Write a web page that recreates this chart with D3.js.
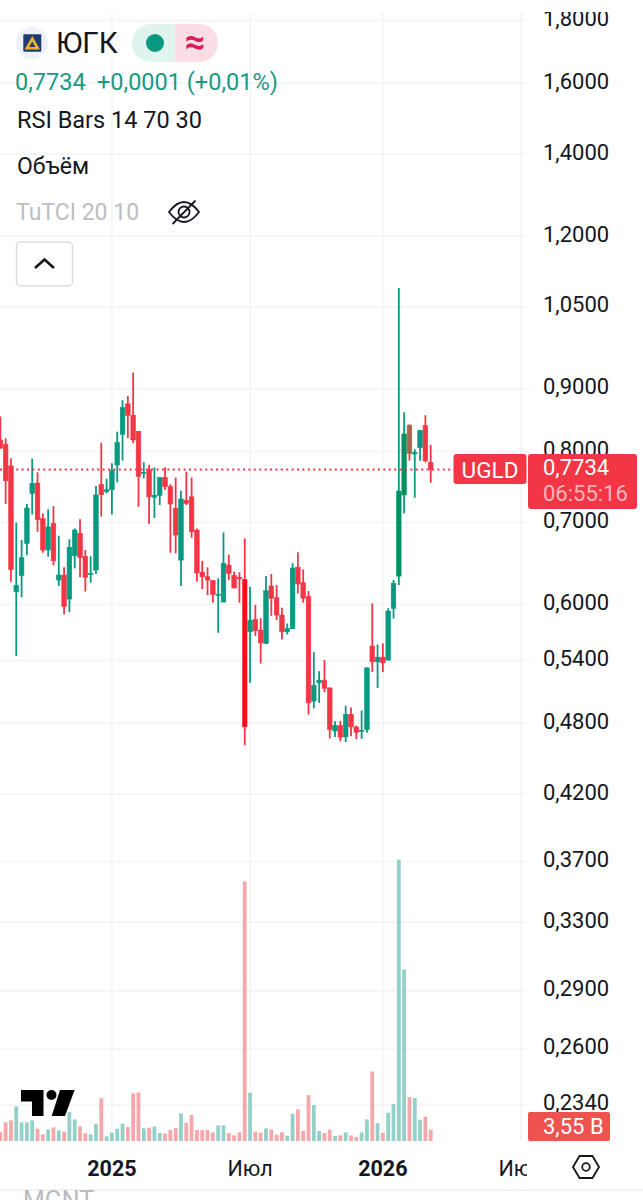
<!DOCTYPE html>
<html>
<head>
<meta charset="utf-8">
<script src="https://cdn.jsdelivr.net/npm/d3@7"></script>
<style>
  html, body { margin: 0; padding: 0; background: #fff; }
  svg { display: block; font-family: Roboto, sans-serif; }
</style>
</head>
<body>
<svg id="chart" width="643" height="1200"></svg>
<script>
const opens = [
  0.8176, 0.8110, 0.7786, 0.6144, 0.6337, 0.6731, 0.7394, 0.7539, 0.7051, 0.6647,
  0.6985, 0.6282, 0.6341, 0.6061, 0.6575, 0.6858, 0.6568, 0.6349, 0.6401, 0.7516,
  0.7418, 0.7445, 0.7800, 0.8264, 0.8750, 0.8565, 0.8311, 0.7678, 0.7737, 0.7341,
  0.7368, 0.7617, 0.7488, 0.7190, 0.6522, 0.7298, 0.7347, 0.6901, 0.6376, 0.6321,
  0.6274, 0.6109, 0.6027, 0.6461, 0.6337, 0.6314, 0.6290, 0.5699, 0.5833, 0.5717,
  0.5576, 0.6211, 0.6076, 0.5881, 0.5699, 0.5731, 0.6434, 0.6250, 0.6090, 0.5002,
  0.5177, 0.5203, 0.5128, 0.4729, 0.4777, 0.4676, 0.4878, 0.4765, 0.4726, 0.4741,
  0.5548, 0.5386, 0.5433, 0.5403, 0.5956, 0.6329, 0.7372, 0.8400, 0.7964, 0.8058,
  0.8400, 0.7840
];
const highs = [
  0.8543, 0.8202, 0.7899, 0.6998, 0.6773, 0.7248, 0.7893, 0.7693, 0.7121, 0.7176,
  0.7220, 0.6828, 0.6434, 0.6782, 0.6923, 0.7042, 0.6647, 0.6568, 0.7497, 0.8134,
  0.7600, 0.7825, 0.8305, 0.8811, 0.8883, 0.9281, 0.8311, 0.7840, 0.7805, 0.7766,
  0.7625, 0.7766, 0.7522, 0.7617, 0.7431, 0.7701, 0.7617, 0.6923, 0.6513, 0.6434,
  0.6282, 0.6302, 0.6870, 0.6588, 0.6381, 0.6374, 0.6795, 0.6203, 0.5995, 0.5847,
  0.6329, 0.6353, 0.6223, 0.5963, 0.5789, 0.6484, 0.6618, 0.6409, 0.6153, 0.5488,
  0.5292, 0.5403, 0.5132, 0.4816, 0.4819, 0.4958, 0.4943, 0.4777, 0.4915, 0.5329,
  0.6012, 0.5564, 0.5575, 0.5956, 0.6282, 1.0880, 0.8614, 0.8421, 0.8034, 0.8331,
  0.8565, 0.8100
];
const lows = [
  0.8049, 0.7248, 0.6262, 0.5444, 0.6081, 0.6584, 0.7107, 0.6879, 0.6613, 0.6563,
  0.6458, 0.6211, 0.5889, 0.5914, 0.6421, 0.6314, 0.6148, 0.6250, 0.6353, 0.7078,
  0.7394, 0.7107, 0.7549, 0.7864, 0.8202, 0.8125, 0.7209, 0.7606, 0.6985, 0.7061,
  0.7234, 0.7441, 0.6613, 0.6605, 0.6211, 0.7234, 0.6802, 0.6262, 0.6176, 0.6106,
  0.6019, 0.5689, 0.6027, 0.6282, 0.6188, 0.6019, 0.4604, 0.5177, 0.5653, 0.5369,
  0.5569, 0.5873, 0.5825, 0.5618, 0.5671, 0.5731, 0.6125, 0.6019, 0.4878, 0.4934,
  0.4986, 0.5087, 0.4662, 0.4676, 0.4638, 0.4632, 0.4682, 0.4656, 0.4659, 0.4714,
  0.5285, 0.5128, 0.5282, 0.5403, 0.5844, 0.6223, 0.7121, 0.7864, 0.7334, 0.7864,
  0.7840, 0.7544
];
const closes = [
  0.8049, 0.7572, 0.6409, 0.6219, 0.6551, 0.7193, 0.7535, 0.7037, 0.6647, 0.6942,
  0.6513, 0.6341, 0.5977, 0.6680, 0.6901, 0.6555, 0.6314, 0.6361, 0.7372, 0.7375,
  0.7445, 0.7723, 0.8134, 0.8689, 0.8565, 0.8176, 0.7635, 0.7693, 0.7347, 0.7368,
  0.7617, 0.7488, 0.7248, 0.6837, 0.7316, 0.7257, 0.6879, 0.6367, 0.6321, 0.6282,
  0.6114, 0.6117, 0.6484, 0.6361, 0.6188, 0.6297, 0.4765, 0.5825, 0.5710, 0.5582,
  0.6156, 0.6069, 0.5881, 0.5699, 0.5735, 0.6425, 0.6235, 0.6071, 0.4986, 0.5151,
  0.5203, 0.5125, 0.4741, 0.4777, 0.4674, 0.4878, 0.4765, 0.4717, 0.4735, 0.5325,
  0.5386, 0.5433, 0.5376, 0.5926, 0.6243, 0.7427, 0.8269, 0.7974, 0.7983, 0.8326,
  0.7860, 0.7734
];
const volumes = [
  2.82, 5.85, 6.47, 10.86, 5.85, 5.85, 6.47, 3.86, 2.09, 3.65,
  4.28, 3.34, 2.92, 9.08, 6.79, 4.59, 2.40, 2.09, 5.43, 13.47,
  1.46, 2.61, 3.86, 5.43, 4.38, 14.93, 15.24, 3.97, 4.18, 4.59,
  2.51, 2.30, 3.45, 4.07, 8.67, 5.74, 8.14, 3.45, 3.45, 3.45,
  2.71, 4.91, 4.91, 2.51, 1.77, 2.71, 81.5, 15.14, 2.92, 2.61,
  3.97, 3.65, 1.98, 2.71, 1.67, 8.56, 9.92, 3.13, 14.41, 11.28,
  3.13, 2.51, 3.55, 1.57, 1.77, 2.71, 1.77, 1.25, 2.71, 6.79,
  21.82, 5.64, 2.61, 8.87, 11.69, 88.35, 53.89, 13.78, 13.47, 6.68,
  7.62, 3.55
];
const priceTicks = [1.8, 1.6, 1.4, 1.2, 1.05, 0.9, 0.8, 0.7, 0.6, 0.54, 0.48, 0.42, 0.37, 0.33, 0.29, 0.26, 0.234];
const timeTicks = [21, 47, 72, 98];
const timeLabels = ["2025", "Июл", "2026", "Июн"];
const boldTimeLabels = ["2025", "2026"];
const overbought = [75, 76];
const oversold = [46];
const mixedBars = [77];
const lastPrice = 0.7734;

const UP = "#089981";
const DOWN = "#f23645";
const GRID = "#f2f3f5";
const INK = "#131722";
const PANE_RIGHT = 527;
const PANE_BOTTOM = 1141;

const svg = d3.select("#chart");
const x = d3.scaleLinear().domain([0, 81]).range([0.33, 430.7]);
const y = d3.scaleLog().domain([0.7, 1.8]).range([522.5, 20.5]);
const v = d3.scaleLinear().domain([0, 3.55]).range([PANE_BOTTOM, PANE_BOTTOM - 11.3]);

const fmt = (value) => value.toFixed(4).replace(".", ",");
const weeks = d3.range(closes.length);
const isUp = (i) => closes[i] >= opens[i];

svg.append("clipPath").attr("id", "pane")
  .append("rect").attr("x", 0).attr("y", 13).attr("width", PANE_RIGHT).attr("height", PANE_BOTTOM - 13);
svg.append("clipPath").attr("id", "time-axis")
  .append("rect").attr("x", 0).attr("y", 1142).attr("width", PANE_RIGHT).attr("height", 48);
svg.append("clipPath").attr("id", "price-axis")
  .append("rect").attr("x", 528).attr("y", 12).attr("width", 115).attr("height", 1140);

// grid
const pane = svg.append("g").attr("clip-path", "url(#pane)");
pane.selectAll(".h-grid").data(priceTicks).join("line")
  .attr("x1", 0).attr("x2", PANE_RIGHT)
  .attr("y1", (d) => y(d)).attr("y2", (d) => y(d))
  .attr("stroke", GRID).attr("stroke-width", 1.5);
pane.selectAll(".v-grid").data(timeTicks).join("line")
  .attr("x1", (d) => x(d)).attr("x2", (d) => x(d))
  .attr("y1", 13).attr("y2", PANE_BOTTOM)
  .attr("stroke", GRID).attr("stroke-width", 1.5);

// volume
pane.selectAll(".vol").data(weeks).join("rect")
  .attr("x", (i) => x(i) - 1.9).attr("width", 3.8)
  .attr("y", (i) => v(volumes[i]))
  .attr("height", (i) => PANE_BOTTOM - v(volumes[i]))
  .attr("fill", (i) => (isUp(i) ? "#93d0c8" : "#f5a8ab"));

// candles
pane.selectAll(".wick").data(weeks).join("line")
  .attr("x1", (i) => x(i)).attr("x2", (i) => x(i))
  .attr("y1", (i) => y(highs[i])).attr("y2", (i) => y(lows[i]))
  .attr("stroke", (i) => (isUp(i) ? UP : DOWN)).attr("stroke-width", 1.8);

const bodyFill = (i) => {
  if (overbought.includes(i)) return "#0a8f5c";
  if (oversold.includes(i)) return "#f70d14";
  if (mixedBars.includes(i)) return "#a5654b";
  return isUp(i) ? UP : DOWN;
};
pane.selectAll(".body").data(weeks).join("rect")
  .attr("x", (i) => x(i) - 2.3).attr("width", 4.6)
  .attr("y", (i) => y(Math.max(opens[i], closes[i])))
  .attr("height", (i) => Math.max(1.2, Math.abs(y(opens[i]) - y(closes[i]))))
  .attr("fill", bodyFill)
  .attr("stroke", (i) => (isUp(i) ? UP : DOWN)).attr("stroke-width", 0.6);

// last price line
svg.append("line")
  .attr("x1", 0).attr("x2", 454)
  .attr("y1", y(lastPrice)).attr("y2", y(lastPrice))
  .attr("stroke", DOWN).attr("stroke-width", 2).attr("stroke-dasharray", "2 3.4");

// price axis
svg.append("g").attr("clip-path", "url(#price-axis)")
  .selectAll("text").data(priceTicks).join("text")
  .attr("x", 543).attr("y", (d) => y(d) + 5.5)
  .attr("font-size", 22).attr("fill", INK)
  .text(fmt);

const tag = svg.append("g");
tag.append("rect").attr("x", 453.5).attr("y", 454).attr("width", 73).attr("height", 30).attr("rx", 3).attr("fill", DOWN);
tag.append("text").attr("x", 490).attr("y", 477.5).attr("text-anchor", "middle")
  .attr("font-size", 22.5).attr("fill", "#fff").text("UGLD");
tag.append("rect").attr("x", 528).attr("y", 454).attr("width", 109).attr("height", 55).attr("rx", 3).attr("fill", DOWN);
tag.append("text").attr("x", 543).attr("y", 475).attr("font-size", 22).attr("fill", "#fff").text(fmt(lastPrice));
tag.append("text").attr("x", 543).attr("y", 501).attr("font-size", 22).attr("fill", "#fff").attr("fill-opacity", 0.65).text("06:55:16");

svg.append("rect").attr("x", 528).attr("y", 1112).attr("width", 82).attr("height", 29).attr("rx", 2).attr("fill", "#ef5350");
svg.append("text").attr("x", 543).attr("y", 1134).attr("font-size", 22).attr("fill", "#fff").text("3,55 B");

// time axis
svg.append("g").attr("clip-path", "url(#time-axis)")
  .selectAll("text").data(timeTicks).join("text")
  .attr("x", (d) => x(d)).attr("y", 1176).attr("text-anchor", "middle")
  .attr("font-size", 21.5)
  .attr("font-weight", (d, i) => (boldTimeLabels.includes(timeLabels[i]) ? 700 : 400))
  .attr("fill", INK)
  .text((d, i) => timeLabels[i]);

svg.append("line").attr("x1", 0).attr("x2", 643).attr("y1", 1190).attr("y2", 1190).attr("stroke", "#eeeff1").attr("stroke-width", 1.5);
svg.append("text").attr("x", 23).attr("y", 1209).attr("font-size", 25).attr("fill", "#b8bbc2").text("MGNT");

// settings hexagon
svg.append("path").attr("d", "M573,1167 L579.5,1156 H592.5 L599,1167 L592.5,1178 H579.5 Z")
  .attr("fill", "none").attr("stroke", INK).attr("stroke-width", 1.8);
svg.append("circle").attr("cx", 586).attr("cy", 1167).attr("r", 3.8)
  .attr("fill", "none").attr("stroke", INK).attr("stroke-width", 1.8);

// tradingview mark
const mark = svg.append("g").attr("fill", "#000");
mark.append("path").attr("d", "M21,1090 H43.5 V1116 H32 V1101.5 H21 Z");
mark.append("circle").attr("cx", 51.5).attr("cy", 1095).attr("r", 5);
mark.append("path").attr("d", "M60,1090 H74.6 L65,1116 H51.7 Z");

// legend
const legend = svg.append("g");
legend.append("circle").attr("cx", 32).attr("cy", 42.7).attr("r", 16).attr("fill", "#eef1f8");
legend.append("rect").attr("x", 23.3).attr("y", 34.3).attr("width", 18).attr("height", 17.5).attr("rx", 1).attr("fill", "#1f3a73");
legend.append("path").attr("d", "M32.3,36 L40,49.5 H24.6 Z M32.3,41.5 L29.2,47 H35.4 Z")
  .attr("fill", "#eab42a").attr("fill-rule", "evenodd");
legend.append("text").attr("x", 56).attr("y", 53.3).attr("font-size", 29.5).attr("fill", INK).text("ЮГК");

legend.append("path").attr("d", "M175,24 H151 A19,19 0 0 0 151,62 H175 Z").attr("fill", "#dff3ef");
legend.append("path").attr("d", "M175,24 H199 A19,19 0 0 1 199,62 H175 Z").attr("fill", "#fbdde6");
legend.append("circle").attr("cx", 155).attr("cy", 43).attr("r", 9).attr("fill", UP);
legend.append("text").attr("x", 195).attr("y", 54).attr("text-anchor", "middle")
  .attr("font-size", 36).attr("font-weight", 700).attr("fill", "#d81e5b").text("≈");

legend.append("text").attr("x", 15).attr("y", 90).attr("font-size", 23.5).attr("fill", "#1a9a82").text("0,7734");
legend.append("text").attr("x", 97).attr("y", 90).attr("font-size", 23.5).attr("fill", "#1a9a82").text("+0,0001 (+0,01%)");
legend.append("text").attr("x", 17).attr("y", 127.5).attr("font-size", 23.5).attr("fill", INK).text("RSI Bars 14 70 30");
legend.append("text").attr("x", 17).attr("y", 174).attr("font-size", 23).attr("fill", INK).text("Объём");
legend.append("text").attr("x", 16).attr("y", 219.5).attr("font-size", 23).attr("fill", "#bcbec3").text("TuTCI 20 10");

// hidden-eye icon
const eye = legend.append("g").attr("fill", "none").attr("stroke", INK).attr("stroke-width", 1.8);
eye.append("path").attr("d", "M169,212 Q184,192 199,212 Q184,232 169,212 Z");
eye.append("circle").attr("cx", 184).attr("cy", 212).attr("r", 5.5);
eye.append("line").attr("x1", 172.5).attr("y1", 224).attr("x2", 195.5).attr("y2", 200.5);

// collapse button
legend.append("rect").attr("x", 16.5).attr("y", 242).attr("width", 56).attr("height", 44).attr("rx", 4)
  .attr("fill", "#fff").attr("stroke", "#dcdde0").attr("stroke-width", 1.5);
legend.append("path").attr("d", "M35,268 L44.5,259.5 L54,268")
  .attr("fill", "none").attr("stroke", INK).attr("stroke-width", 2.6);
</script>
</body>
</html>
